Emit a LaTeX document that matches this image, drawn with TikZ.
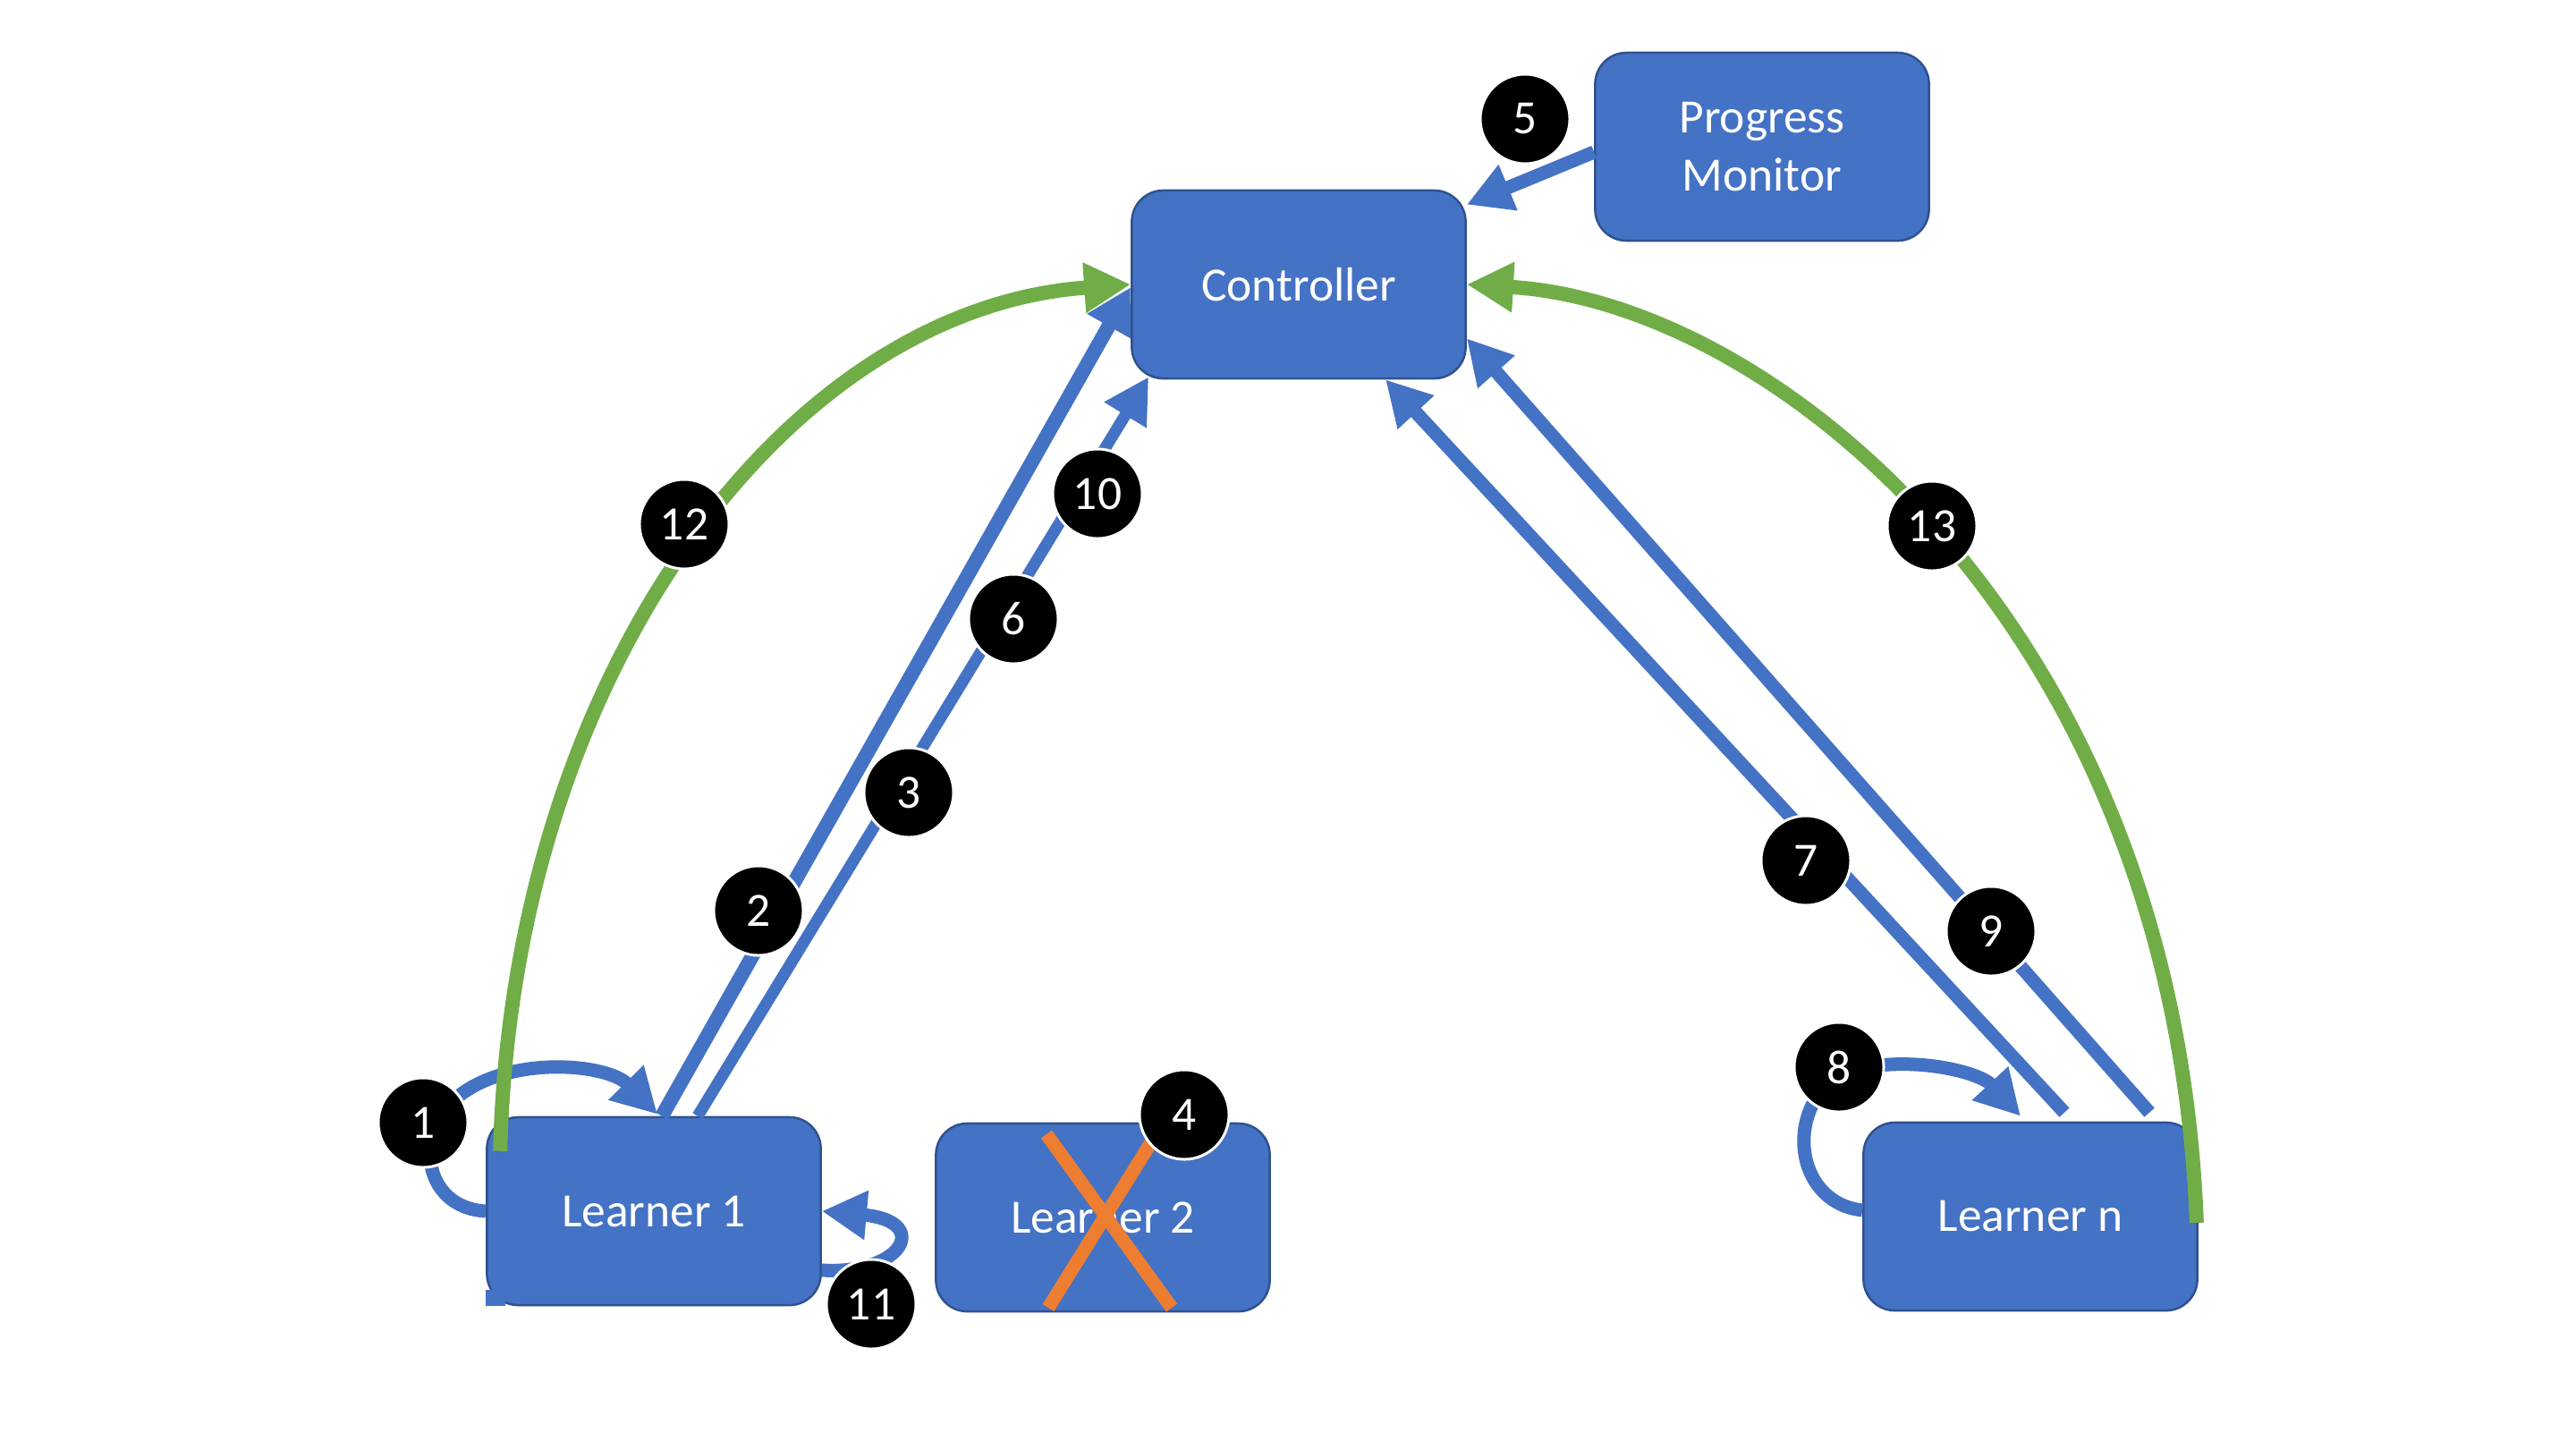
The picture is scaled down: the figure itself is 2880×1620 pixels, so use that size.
\documentclass[tikz,border=0pt]{standalone}
\usepackage{fontspec}
\setmainfont{Carlito}
\usepackage{tikz}
\usetikzlibrary{arrows.meta, calc}
\definecolor{boxblue}{HTML}{4472C4}
\definecolor{edgeblue}{HTML}{2F528F}
\definecolor{okgreen}{HTML}{70AD47}
\definecolor{crossorange}{HTML}{ED7D31}

\begin{document}
\begin{tikzpicture}[x=0.01cm, y=-0.01cm,
  blk/.style={draw=edgeblue, fill=boxblue, line width=0.025cm, rounded corners=0.35cm,
    minimum width=3.73cm, minimum height=2.1cm, text=white, align=center,
    font=\fontsize{15.2}{18.5}\selectfont},
  num/.style={circle, fill=black, draw=white, line width=0.03cm, minimum size=1.0cm,
    inner sep=0pt, text=white, font=\fontsize{15.2}{18}\selectfont},
  flow/.style={draw=boxblue, line width=0.15cm, -{Triangle[length=0.5cm,width=0.52cm]}},
  done/.style={draw=okgreen, line width=0.16cm, -{Triangle[length=0.52cm,width=0.53cm]}}]
\useasboundingbox (0,0) rectangle (2880,1620);

\node[blk] (ctrl) at (1452,318) {Controller};
\node[blk] (pm) at (1970,164) {Progress\\Monitor};
\node[blk] (l1) at (731,1354) {Learner 1};
\node[blk] (l2) at (1233,1361) {Learner 2};
\node[blk] (ln) at (2270,1360) {Learner n};
\fill[boxblue] (l1.south west) rectangle +(22,-18);

% learner 2 drops out
\draw[crossorange, line width=0.15cm] ($(l2)+(-63,-93)$) -- ($(l2)+(77,101)$);
\draw[crossorange, line width=0.15cm] ($(l2)+(-61,101)$) -- ($(l2)+(67,-105)$);

\draw[flow] (l1.west) .. controls (470,1350) and (460,1260) .. (520,1220)
  .. controls (580,1180) and (680,1190) .. ([xshift=0.04cm,yshift=0.02cm]l1.north);
\draw[flow, line width=0.16cm] ([xshift=0.09cm]l1.north) -- ([yshift=-0.03cm]ctrl.west);
\draw[flow, line width=0.13cm] ([xshift=0.49cm]l1.north) -- ([xshift=0.2cm,yshift=0.03cm]ctrl.south west);
\draw[flow] ([yshift=-0.06cm]pm.west) -- ([yshift=-0.17cm]ctrl.north east);
\draw[flow] ([xshift=0.38cm,yshift=0.1cm]ln.north) -- ([xshift=0.97cm]ctrl.south);
\draw[flow] ([yshift=0.07cm]ln.west) .. controls (2010,1345) and (1995,1250) .. (2050,1205)
  .. controls (2110,1175) and (2210,1195) .. ([xshift=-0.11cm,yshift=0.06cm]ln.north);
\draw[flow] ([xshift=1.33cm,yshift=0.1cm]ln.north) -- ([yshift=0.46cm]ctrl.south east);
\draw[flow] ([yshift=-0.66cm]l1.east) .. controls +(92,5) and +(122,11) .. (l1.east);

\draw[done] ([xshift=0.16cm,yshift=-0.39cm]l1.north west) .. controls +(14,-535) and +(-385,27) .. (ctrl.west);
\draw[done] ([xshift=-0.02cm,yshift=-0.07cm]ln.east) .. controls +(-25,-667) and +(342,20) .. (ctrl.east);

\foreach \n/\x/\y in {1/473/1255, 2/848/1018, 3/1016/886, 4/1324/1246, 5/1705/133,
  6/1133/692, 7/2019/962, 8/2056/1193, 9/2226/1041, 10/1227/552, 11/974/1458,
  12/765/586, 13/2160/588}
  \node[num] (b\n) at (\x,\y) {\n};
\end{tikzpicture}
\end{document}
